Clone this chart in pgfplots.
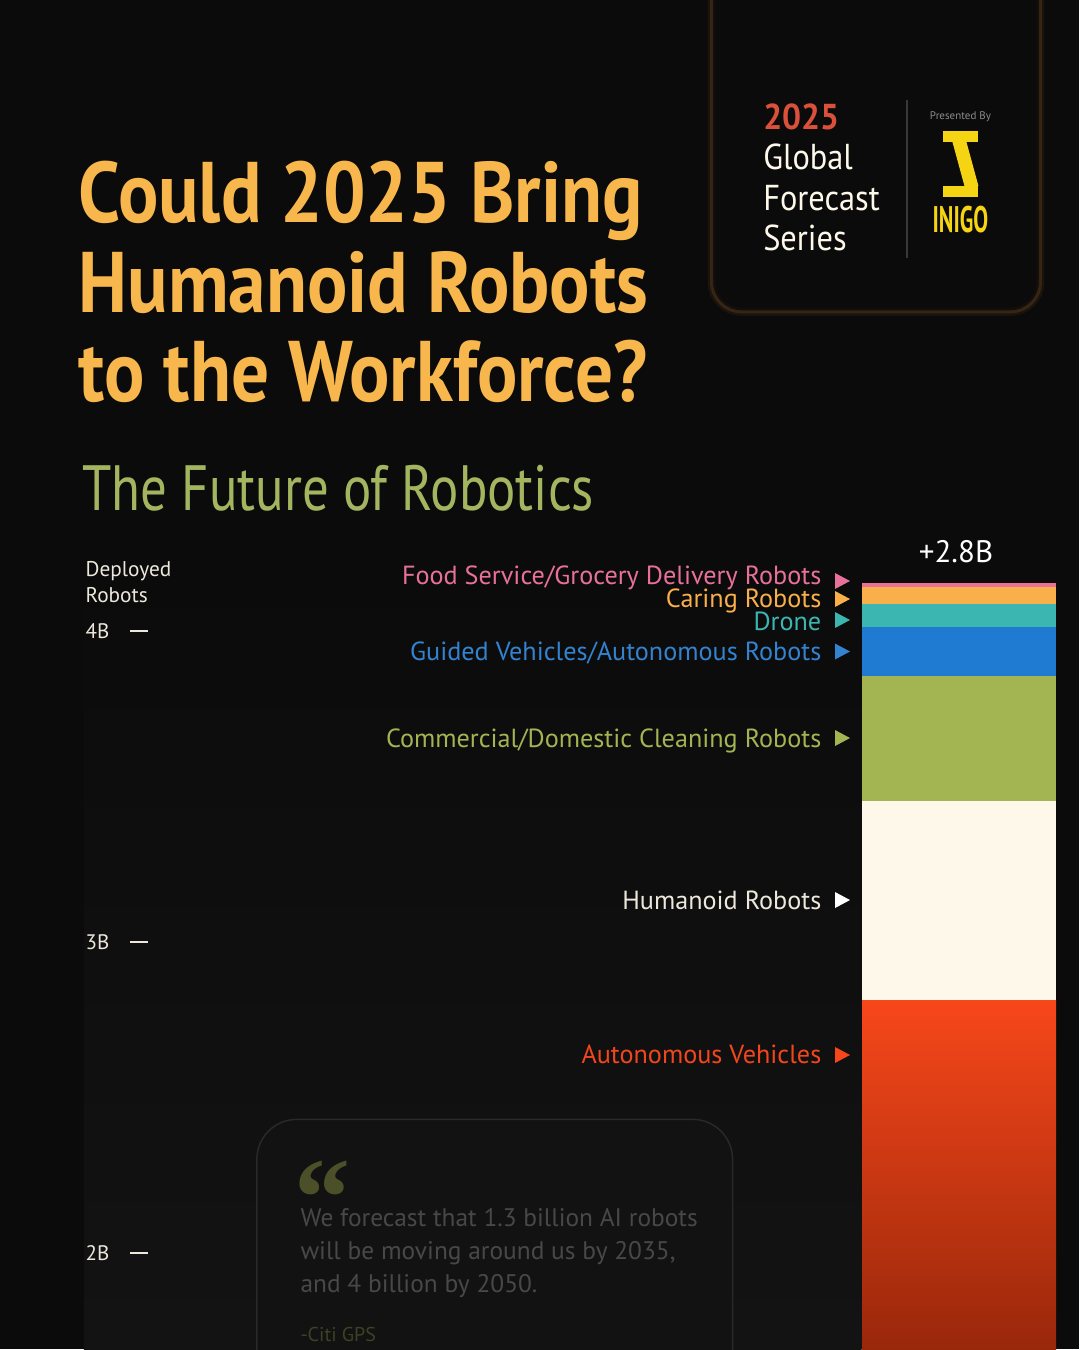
\documentclass[border=0pt]{standalone}
\usepackage{fontspec}
\setmainfont{PT Sans}
\newfontfamily\serifq{Liberation Serif}
\usepackage{graphicx}
\usepackage{pgfplots}
\pgfplotsset{compat=1.18}
\definecolor{bg}{HTML}{0B0B0B}
\definecolor{panel}{HTML}{131313}
\definecolor{titlec}{HTML}{F8B74C}
\definecolor{subc}{HTML}{A4B560}
\definecolor{foodc}{HTML}{E8719A}
\definecolor{caringc}{HTML}{FAB04A}
\definecolor{dronec}{HTML}{3BB6B1}
\definecolor{guidedc}{HTML}{1F7BD2}
\definecolor{guidedt}{HTML}{3383D0}
\definecolor{cleanc}{HTML}{A3B553}
\definecolor{humc}{HTML}{FDF8E9}
\definecolor{autoc}{HTML}{F7471A}
\definecolor{autot}{HTML}{F2461D}
\definecolor{autodark}{HTML}{7D1E06}
\definecolor{tickc}{HTML}{EDE8DC}
\definecolor{redc}{HTML}{DA503A}
\definecolor{yel}{HTML}{F5D414}
\definecolor{quotec}{HTML}{484848}
\definecolor{olive}{HTML}{4B5028}
\definecolor{citic}{HTML}{3E4124}

\newcommand{\px}[1]{\fontsize{#1\dimexpr 0.28453pt\relax}{1.2\dimexpr #1\dimexpr 0.28453pt\relax\relax}\selectfont}

% #1 text colour, #2 text baseline, #3 triangle top, #4 triangle tip, #5 triangle bottom, #6 text, #7 triangle colour
\newcommand{\lab}[7]{%
  \node[anchor=base east, text=#1, font=\px{26.2}, inner sep=0pt] at (axis cs:822,#2) {#6};
  \fill[#7] (axis cs:835,#3) -- (axis cs:850,#4) -- (axis cs:835,#5) -- cycle;
}

\begin{document}
\begin{tikzpicture}
\useasboundingbox (0,0) rectangle (10.8cm,-13.5cm);
\clip (0,0) rectangle (10.8cm,-13.5cm);
\begin{scope}[x=0.01cm,y=0.01cm]
\fill[bg] (0,0) rectangle (1080,-1350);
\shade[top color=bg, bottom color=panel] (84,-560) rectangle (862,-1350);

% top-right box
\draw[draw=brown!30!black, opacity=0.35, line width=0.08cm, rounded corners=0.3cm] (712,60) rectangle (1041,-312);
\draw[draw=brown!40!black, opacity=0.6, line width=0.03cm, fill=bg, rounded corners=0.3cm] (712,60) rectangle (1041,-312);
\node[anchor=base west, inner sep=0pt, text=redc, font=\bfseries\px{36}] at (763,-130) {\scalebox{0.93}[1]{2025}};
\node[anchor=base west, inner sep=0pt, text=humc, font=\px{36}] at (763,-170) {\scalebox{0.9}[1]{Global}};
\node[anchor=base west, inner sep=0pt, text=humc, font=\px{36}] at (763,-211) {\scalebox{0.9}[1]{Forecast}};
\node[anchor=base west, inner sep=0pt, text=humc, font=\px{36}] at (763,-251) {\scalebox{0.9}[1]{Series}};
\draw[draw=white!22!black, line width=0.02cm] (908,-100) -- (908,-258);
\node[anchor=base, inner sep=0pt, text=white!55!black, font=\px{11}] at (961,-120) {Presented By};
\fill[yel] (944,-131) rectangle (979,-142);
\fill[yel] (944,-186) rectangle (979,-197);
\fill[yel] (953,-142) -- (967,-142) -- (979,-186) -- (965,-186) -- cycle;
\node[anchor=base, inner sep=0pt, text=yel, font=\bfseries\px{37}] at (961,-233) {\scalebox{0.6}[1]{INIGO}};

% title
\node[anchor=base west, inner sep=0pt, text=titlec, font=\bfseries\px{86}] at (78,-223) {\scalebox{0.875}[1]{Could 2025 Bring}};
\node[anchor=base west, inner sep=0pt, text=titlec, font=\bfseries\px{86}] at (78,-313) {\scalebox{0.875}[1]{Humanoid Robots}};
\node[anchor=base west, inner sep=0pt, text=titlec, font=\bfseries\px{86}] at (78,-402) {\scalebox{0.875}[1]{to the Workforce?}};
\node[anchor=base west, inner sep=0pt, text=subc, font=\px{64}] at (82,-511) {\scalebox{0.826}[1]{The Future of Robotics}};

% axis title
\node[anchor=base west, inner sep=0pt, text=tickc, font=\px{21.3}] at (85,-577) {Deployed};
\node[anchor=base west, inner sep=0pt, text=tickc, font=\px{21.3}] at (85,-603) {Robots};

% quote box
\draw[draw=white!16!black, fill=white!7!black, line width=0.015cm, rounded corners=0.4cm] (257,-1120) rectangle (733,-1420);
\node[anchor=base west, inner sep=0pt, text=olive, font=\serifq\bfseries\px{112}] at (294,-1236) {“};
\node[anchor=base west, inner sep=0pt, text=quotec, font=\px{25.4}] at (300,-1227) {We forecast that 1.3 billion AI robots};
\node[anchor=base west, inner sep=0pt, text=quotec, font=\px{25.4}] at (300,-1260) {will be moving around us by 2035,};
\node[anchor=base west, inner sep=0pt, text=quotec, font=\px{25.4}] at (300,-1293) {and 4 billion by 2050.};
\node[anchor=base west, inner sep=0pt, text=citic, font=\px{20}] at (300,-1342) {-Citi GPS};
\end{scope}

\begin{axis}[
  at={(1.30cm,-13.50cm)}, anchor=south west,
  scale only axis, width=9.26cm, height=8.10cm,
  xmin=130, xmax=1056, ymin=1.6881, ymax=4.2926,
  ybar stacked, bar width=194,
  axis line style={draw=none},
  xtick=\empty,
  ytick={2,3,4}, yticklabels={2B,3B,4B},
  ytick pos=left,
  tick align=inside, major tick length=0.18cm,
  ytick style={draw=tickc, line width=0.02cm},
  yticklabel style={anchor=west, xshift=-0.45cm, inner sep=0pt, text=tickc, font=\px{21}},
  clip=false,
]
% invisible base of the stack (level before the +2.8B)
\addplot[draw=none, fill=none] coordinates {(959,1.355)};
\addplot[draw=none, top color=autoc, middle color=autoc, bottom color=autodark, shading angle=0] coordinates {(959,1.458)};
\addplot[draw=none, fill=humc] coordinates {(959,0.640)};
\addplot[draw=none, fill=cleanc] coordinates {(959,0.403)};
\addplot[draw=none, fill=guidedc] coordinates {(959,0.156)};
\addplot[draw=none, fill=dronec] coordinates {(959,0.075)};
\addplot[draw=none, fill=caringc] coordinates {(959,0.054)};
\addplot[draw=none, fill=foodc] coordinates {(959,0.015)};

\lab{foodc}{4.1511}{4.1865}{4.1608}{4.1351}{Food Service/Grocery Delivery Robots}{foodc}
\lab{caringc}{4.0772}{4.1286}{4.1029}{4.0772}{Caring Robots}{caringc}
\lab{dronec}{4.0032}{4.0611}{4.0354}{4.0097}{Drone}{dronec}
\lab{guidedt}{3.9068}{3.9598}{3.9341}{3.9084}{Guided Vehicles/Autonomous Robots}{guidedt}
\lab{cleanc}{3.6270}{3.6816}{3.6559}{3.6302}{Commercial/Domestic Cleaning Robots}{cleanc}
\lab{tickc}{3.1061}{3.1607}{3.1350}{3.1093}{Humanoid Robots}{white}
\lab{autot}{2.6109}{2.6624}{2.6367}{2.6110}{Autonomous Vehicles}{autoc}
\node[anchor=base, inner sep=0pt, text=white, font=\px{31}] at (axis cs:956,4.2219) {+2.8B};
\end{axis}
\end{tikzpicture}
\end{document}
